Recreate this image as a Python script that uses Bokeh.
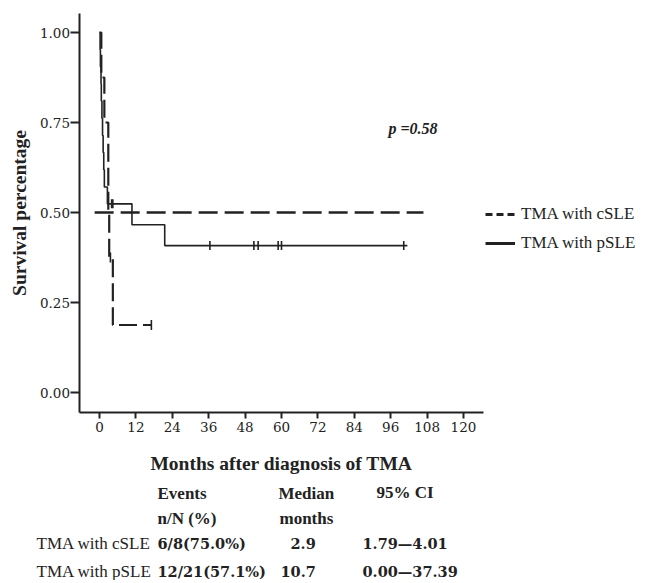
from bokeh.plotting import figure
from bokeh.models import (Range1d, FixedTicker, Label, Legend, LegendItem,
                          NumeralTickFormatter, ColumnDataSource)
from bokeh.embed import file_html
from bokeh.resources import INLINE
from bokeh.core.properties import value
import numpy as np

# ---------------- data ----------------
# TMA with cSLE (Kaplan-Meier steps)
c_times = [0.0, 0.6, 1.6, 2.9, 3.2, 4.4, 17.1]
c_surv = [1.0, 0.875, 0.75, 0.5, 0.375, 0.1875, 0.1875]
c_cens_t = [3.6, 17.1]
c_cens_s = [0.375, 0.1875]

# TMA with pSLE
p_times = [0.0, 0.2, 0.3, 0.5, 0.6, 0.8, 1.0, 1.2, 1.4, 1.6, 2.6, 10.7, 21.5, 101.5]
p_surv = [1.0, 0.952, 0.905, 0.857, 0.810, 0.762, 0.714, 0.667, 0.619, 0.571,
          0.524, 0.466, 0.408, 0.408]
p_cens_t = [4.0, 4.4, 36.4, 50.9, 52.3, 58.9, 60.0, 100.3]
p_cens_s = [0.524, 0.524, 0.408, 0.408, 0.408, 0.408, 0.408, 0.408]

# median reference line
median_y = 0.5
median_x = [-1.6, 106.8]

x_ticks = [0, 12, 24, 36, 48, 60, 72, 84, 96, 108, 120]
y_ticks = [0.0, 0.25, 0.5, 0.75, 1.0]
x_axis_bounds = (-6.43, 126.6)
y_axis_bounds = (-0.0556, 1.0528)

series_names = ["TMA with cSLE", "TMA with pSLE"]
header_top = ["Events", "Median", "95% CI"]
header_bottom = ["n/N (%)", "months"]
table_events = ["6/8(75.0%)", "12/21(57.1%)"]
table_median = ["2.9", "10.7"]
table_ci = ["1.79\u20144.01", "0.00\u201437.39"]
p_value_text = "p =0.58"

# ---------------- figure ----------------
W, H = 645, 580
X0, XS = 99.0, 3.0333      # pixel of month 0, pixels per month
Y0, YS = 392.0, 360.0      # pixel of survival 0, pixels per unit


def px(x):
    return (x - X0) / XS


def py(y):
    return (Y0 - y) / YS


INK = "#222222"
p = figure(width=W, height=H, output_backend="svg", toolbar_location=None,
           x_range=Range1d(px(0), px(W)), y_range=Range1d(py(H), py(0)),
           min_border=0, min_border_left=0, min_border_right=0,
           min_border_top=0, min_border_bottom=0,
           background_fill_color="white", border_fill_color="white")
p.outline_line_color = None
p.xgrid.visible = False
p.ygrid.visible = False

for ax in (p.xaxis[0], p.yaxis[0]):
    ax.axis_line_width = 2
    ax.axis_line_color = INK
    ax.major_tick_line_color = INK
    ax.major_tick_line_width = 2
    ax.minor_tick_line_color = None
    ax.major_tick_in = 0
    ax.major_label_text_font = "DejaVu Serif"
    ax.major_label_text_font_size = "13.5px"
    ax.major_label_text_color = INK
    ax.axis_label_text_font = "Liberation Serif"
    ax.axis_label_text_font_style = "bold"
    ax.axis_label_text_font_size = "19.5px"
    ax.axis_label_text_color = INK

p.xaxis.fixed_location = y_axis_bounds[0]
p.yaxis.fixed_location = x_axis_bounds[0]
p.xaxis.bounds = x_axis_bounds
p.yaxis.bounds = y_axis_bounds
p.xaxis.ticker = FixedTicker(ticks=x_ticks)
p.yaxis.ticker = FixedTicker(ticks=y_ticks)
p.yaxis.formatter = NumeralTickFormatter(format="0.00")
p.xaxis.major_tick_out = 6
p.yaxis.major_tick_out = 9
p.xaxis.major_label_standoff = 3
p.yaxis.major_label_standoff = 1
p.xaxis.axis_label = "Months after diagnosis of TMA"
p.yaxis.axis_label = "Survival percentage"
p.xaxis.axis_label_standoff = 18
p.yaxis.axis_label_standoff = 6

# median reference line
p.line(x=median_x, y=[median_y, median_y], line_color=INK, line_width=2.4,
       line_dash="19 7")

# survival curves
c_line = p.step(x=c_times, y=c_surv, mode="after", line_color=INK,
                line_width=2.2, line_dash="18 6")
p_line = p.step(x=p_times, y=p_surv, mode="after", line_color=INK,
                line_width=1.6)

# censor marks
p.scatter(x=c_cens_t, y=c_cens_s, marker="dash", angle=np.pi / 2, size=10,
          line_color=INK, line_width=1.6)
p.scatter(x=p_cens_t, y=p_cens_s, marker="dash", angle=np.pi / 2, size=9,
          line_color=INK, line_width=1.6)

# legend proxies (a single undefined point: nothing is drawn on the chart)
proxy_src = ColumnDataSource(data=dict(x=[np.nan], y=[np.nan]))
c_proxy = p.line(x="x", y="y", source=proxy_src, line_color=INK, line_width=3,
                 line_dash="7 4")
p_proxy = p.line(x="x", y="y", source=proxy_src, line_color=INK, line_width=3)
legend = Legend(items=[LegendItem(label=series_names[0], renderers=[c_proxy]),
                       LegendItem(label=series_names[1], renderers=[p_proxy])],
                location=(485, H - 253), border_line_alpha=0,
                background_fill_alpha=0, padding=0, margin=0, spacing=9,
                glyph_width=30, glyph_height=20, label_height=20,
                label_standoff=6, label_text_font="Liberation Serif",
                label_text_font_size="17px", label_text_color=INK)
p.add_layout(legend)

p.add_layout(Label(x=px(388), y=py(128), text=p_value_text,
                   text_font="Liberation Serif", text_font_size="16px",
                   text_font_style="bold italic", text_color=INK,
                   text_align="left", text_baseline="middle"))

# ---------------- table under the chart ----------------
common = dict(text_color=INK, text_align="left", text_baseline="middle")


def tx(xs):
    return [px(v) for v in xs]


def ty(ys):
    return [py(v) for v in ys]


p.text(x=tx([157, 278, 376]), y=ty([493, 493, 492]), text=header_top,
       text_font=value("Liberation Serif"), text_font_size="17px",
       text_font_style="bold", **common)
p.text(x=tx([157, 279]), y=ty([518, 518]), text=header_bottom,
       text_font=value("Liberation Serif"), text_font_size="17px",
       text_font_style="bold", **common)
p.text(x=tx([36, 36]), y=ty([543, 571]), text=series_names,
       text_font=value("Liberation Serif"), text_font_size="17px",
       text_font_style="normal", **common)
p.text(x=tx([157, 157]), y=ty([543, 571]), text=table_events,
       text_font=value("DejaVu Serif"), text_font_size="14.5px",
       text_font_style="bold", **common)
p.text(x=tx([290, 280]), y=ty([543, 571]), text=table_median,
       text_font=value("DejaVu Serif"), text_font_size="14.5px",
       text_font_style="bold", **common)
p.text(x=tx([362, 362]), y=ty([543, 571]), text=table_ci,
       text_font=value("DejaVu Serif"), text_font_size="14.5px",
       text_font_style="bold", **common)

open("out.html", "w").write(file_html(p, INLINE))
